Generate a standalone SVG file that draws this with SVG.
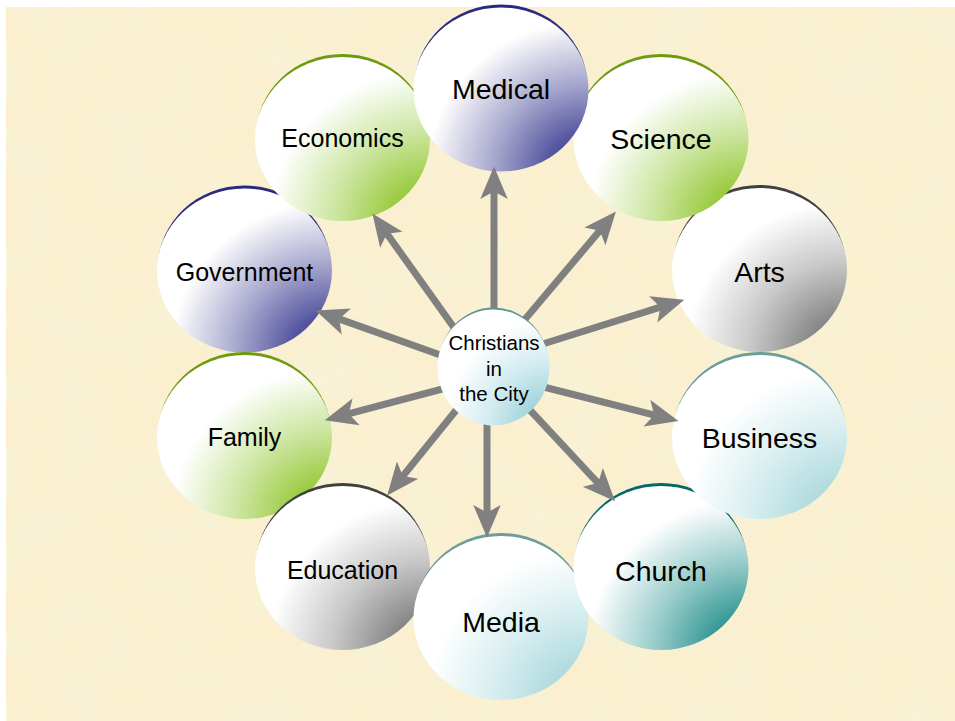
<svg xmlns="http://www.w3.org/2000/svg" width="955" height="721" viewBox="0 0 955 721">
<style>
.lbl{font-family:"Liberation Sans",Arial,sans-serif;fill:#000;text-anchor:middle}
.big{font-size:28.5px}
.sm{font-size:25px}
.ctr{font-size:20.5px}
.arr{fill:none;stroke:#808080;stroke-width:7;marker-end:url(#ah)}
</style>
<defs>
<filter id="tex" x="0" y="0" width="100%" height="100%">
<feTurbulence type="fractalNoise" baseFrequency="0.02" numOctaves="4" seed="7"/>
<feColorMatrix type="matrix" values="0 0 0 0 0.93  0 0 0 0 0.90  0 0 0 0 0.72  0 0 0 1.1 -0.45"/>
</filter>
<radialGradient id="gBlue" cx="1" cy="1" r="1" fx="1" fy="1">
<stop offset="0.22" stop-color="#52529e"/><stop offset="0.55" stop-color="#a9a9cf"/><stop offset="0.92" stop-color="#ffffff"/>
</radialGradient>
<radialGradient id="gGreen" cx="1" cy="1" r="1" fx="1" fy="1">
<stop offset="0.22" stop-color="#9acb40"/><stop offset="0.55" stop-color="#cde6a2"/><stop offset="0.92" stop-color="#ffffff"/>
</radialGradient>
<radialGradient id="gGray" cx="1" cy="1" r="1" fx="1" fy="1">
<stop offset="0.22" stop-color="#888888"/><stop offset="0.55" stop-color="#c8c8c8"/><stop offset="0.92" stop-color="#ffffff"/>
</radialGradient>
<radialGradient id="gCyan" cx="1" cy="1" r="1" fx="1" fy="1">
<stop offset="0.22" stop-color="#b0dbdf"/><stop offset="0.55" stop-color="#d8eef0"/><stop offset="0.92" stop-color="#ffffff"/>
</radialGradient>
<radialGradient id="gTeal" cx="1" cy="1" r="1" fx="1" fy="1">
<stop offset="0.22" stop-color="#379a98"/><stop offset="0.55" stop-color="#9ccecc"/><stop offset="0.92" stop-color="#ffffff"/>
</radialGradient>
<radialGradient id="gCtr" cx="1" cy="1" r="1" fx="1" fy="1">
<stop offset="0.22" stop-color="#a4d5dd"/><stop offset="0.55" stop-color="#d3ecf0"/><stop offset="0.92" stop-color="#ffffff"/>
</radialGradient>
<marker id="ah" markerUnits="userSpaceOnUse" markerWidth="40" markerHeight="30" viewBox="-10 -12 30 24" refX="0" refY="0" orient="auto">
<path d="M18,0 L-8,-11 L-2,0 L-8,11 Z" fill="#808080"/>
</marker>
</defs>

<rect x="0" y="0" width="955" height="721" fill="#ffffff"/>
<rect x="6" y="7" width="949" height="714" fill="#faf0d0"/>
<rect x="6" y="7" width="949" height="714" filter="url(#tex)"/>

<g id="nodes">
<g id="government">
<ellipse cx="244.5" cy="267.5" rx="86.5" ry="82" fill="#2a2a80"/>
<ellipse cx="244.5" cy="270.5" rx="87.5" ry="82" fill="url(#gBlue)"/>
<text class="lbl sm" x="244.5" y="281">Government</text>
</g>
<g id="family">
<ellipse cx="244.5" cy="434" rx="86.5" ry="82" fill="#6e9a10"/>
<ellipse cx="244.5" cy="437" rx="87.5" ry="82" fill="url(#gGreen)"/>
<text class="lbl sm" x="244.5" y="446">Family</text>
</g>
<g id="education">
<ellipse cx="342.5" cy="565" rx="86.5" ry="82" fill="#404040"/>
<ellipse cx="342.5" cy="568" rx="87.5" ry="82" fill="url(#gGray)"/>
<text class="lbl sm" x="342.5" y="579">Education</text>
</g>
<g id="media">
<ellipse cx="501" cy="615" rx="86.5" ry="82" fill="#6c9c9c"/>
<ellipse cx="501" cy="618" rx="87.5" ry="82" fill="url(#gCyan)"/>
<text class="lbl big" x="501" y="632">Media</text>
</g>
<g id="church">
<ellipse cx="661" cy="565" rx="86.5" ry="82" fill="#006a68"/>
<ellipse cx="661" cy="568" rx="87.5" ry="82" fill="url(#gTeal)"/>
<text class="lbl big" x="661" y="581">Church</text>
</g>
<g id="business">
<ellipse cx="759.5" cy="434" rx="86.5" ry="82" fill="#6c9c9c"/>
<ellipse cx="759.5" cy="437" rx="87.5" ry="82" fill="url(#gCyan)"/>
<text class="lbl big" x="759.5" y="448">Business</text>
</g>
<g id="arts">
<ellipse cx="759.5" cy="267" rx="86.5" ry="82" fill="#404040"/>
<ellipse cx="759.5" cy="270" rx="87.5" ry="82" fill="url(#gGray)"/>
<text class="lbl big" x="759.5" y="282">Arts</text>
</g>
<g id="science">
<ellipse cx="661" cy="136" rx="86.5" ry="82" fill="#6e9a10"/>
<ellipse cx="661" cy="139" rx="87.5" ry="82" fill="url(#gGreen)"/>
<text class="lbl big" x="661" y="149">Science</text>
</g>
<g id="economics">
<ellipse cx="342.5" cy="136" rx="86.5" ry="82" fill="#6e9a10"/>
<ellipse cx="342.5" cy="139" rx="87.5" ry="82" fill="url(#gGreen)"/>
<text class="lbl sm" x="342.5" y="147">Economics</text>
</g>
<g id="medical">
<ellipse cx="501" cy="86.5" rx="86.5" ry="82" fill="#2a2a80"/>
<ellipse cx="501" cy="89.5" rx="87.5" ry="82" fill="url(#gBlue)"/>
<text class="lbl big" x="501" y="99">Medical</text>
</g>
</g>

<g id="connectors">
<path class="arr" d="M494,330 L494,189"/>
<path class="arr" d="M470,350 L385.5,231.7"/>
<path class="arr" d="M510,337 L601.4,228.8"/>
<path class="arr" d="M460,362 L336.9,318.1"/>
<path class="arr" d="M530,348 L662.8,306.4"/>
<path class="arr" d="M465,383 L346.4,414.4"/>
<path class="arr" d="M520,381 L656.6,415.6"/>
<path class="arr" d="M470,393 L401.3,478"/>
<path class="arr" d="M487,400 L487,515"/>
<path class="arr" d="M515,394 L599.7,484.8"/>
</g>

<g id="center">
<ellipse cx="493.5" cy="365.5" rx="55" ry="58" fill="#5f9494"/>
<ellipse cx="493.5" cy="367.5" rx="56" ry="58" fill="url(#gCtr)"/>
<text class="lbl ctr" x="494" y="350">Christians</text>
<text class="lbl ctr" x="494" y="376">in</text>
<text class="lbl ctr" x="494" y="401">the City</text>
</g>
</svg>
